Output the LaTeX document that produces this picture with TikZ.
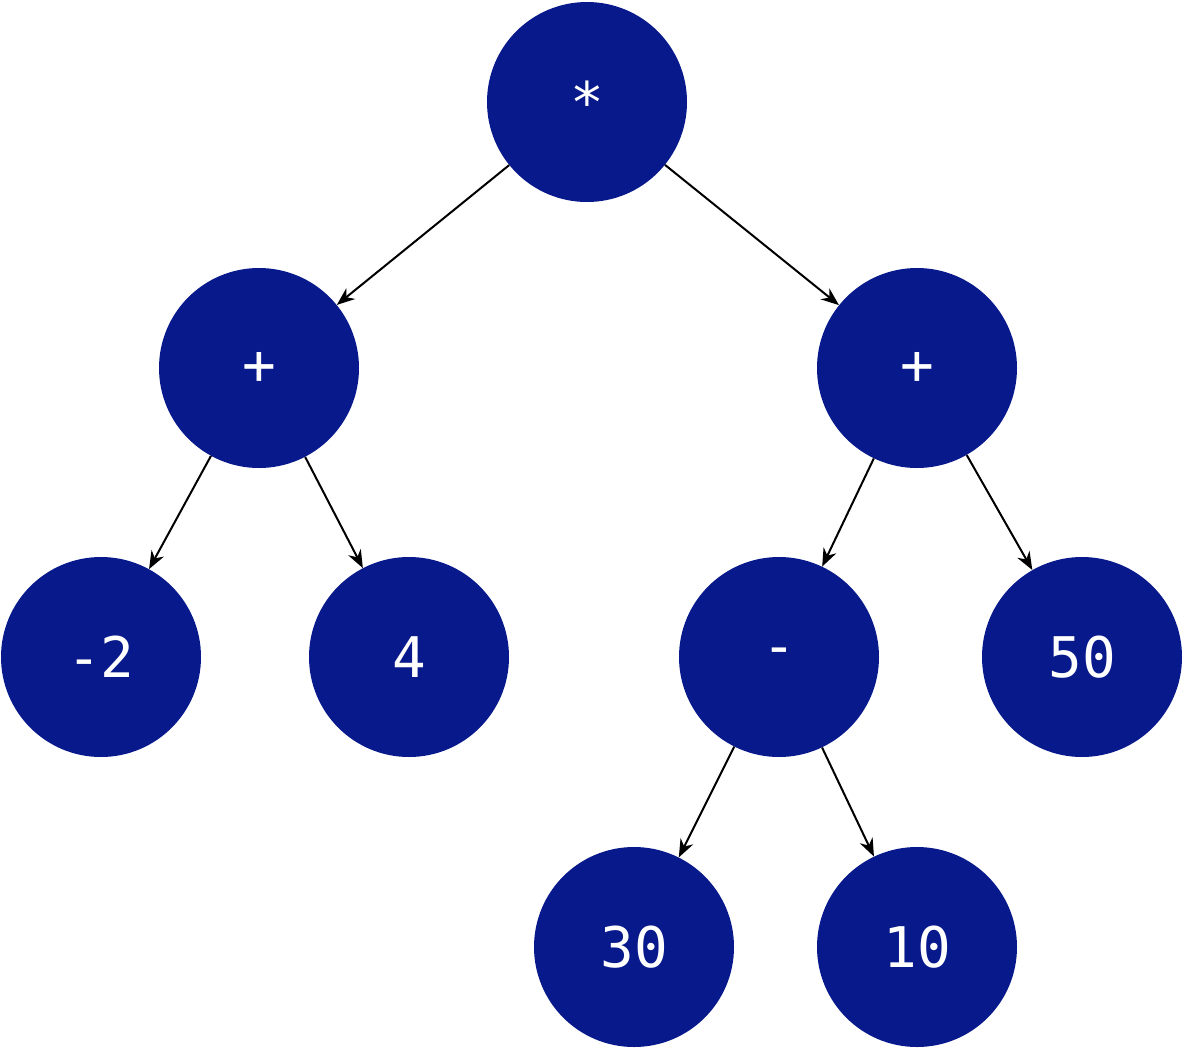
\documentclass[tikz,border=0pt]{standalone}
\usepackage{fontspec}
\setmonofont{DejaVu Sans Mono}
\usetikzlibrary{arrows.meta}
\definecolor{nb}{HTML}{08198C}
\begin{document}
\begin{tikzpicture}[x=1pt,y=-1pt,
  nd/.style={circle,fill=nb,minimum size=200pt,inner sep=0pt,text=white,font=\ttfamily\fontsize{56}{60}\selectfont},
  ar/.style={line width=2pt,-{Stealth[length=18pt,width=14pt]}}]
\useasboundingbox (0,0) rectangle (1184,1050);
\node[nd] (r) at (587,102) {*};
\node[nd] (a) at (259,368) {+};
\node[nd] (b) at (917,368) {+};
\node[nd] (c) at (101,657) {-2};
\node[nd] (d) at (409,657) {4};
\node[nd] (e) at (779,657) {-};
\node[nd] (f) at (1082,657) {50};
\node[nd] (g) at (634,947) {30};
\node[nd] (h) at (917,947) {10};
\draw[ar] (r) -- (a);
\draw[ar] (r) -- (b);
\draw[ar] (a) -- (c);
\draw[ar] (a) -- (d);
\draw[ar] (b) -- (e);
\draw[ar] (b) -- (f);
\draw[ar] (e) -- (g);
\draw[ar] (e) -- (h);
\end{tikzpicture}
\end{document}
